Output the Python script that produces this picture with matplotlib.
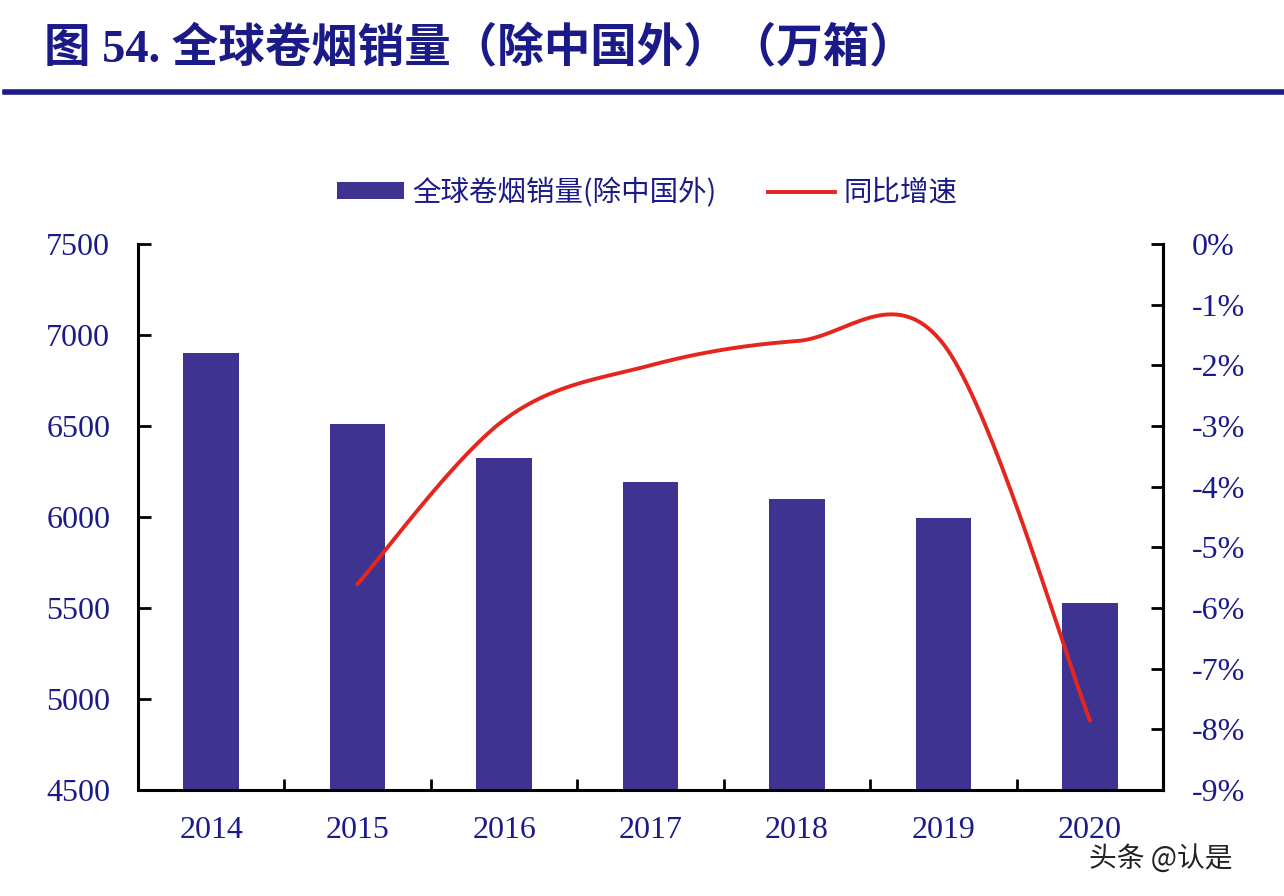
import numpy as np
import matplotlib.pyplot as plt
from matplotlib.patches import Patch
from matplotlib.lines import Line2D

years = ["2014", "2015", "2016", "2017", "2018", "2019", "2020"]
sales = [6900, 6510, 6325, 6195, 6100, 5995, 5525]        # 万箱
yoy = [np.nan, -5.6, -2.9, -2.0, -1.6, -1.65, -7.85]       # %

navy = "#1a1a88"
bar_c = "#3f3391"
red_c = "#e5261f"
serif = ["Liberation Serif", "Noto Sans CJK SC"]
cjk = ["Noto Sans CJK SC", "DejaVu Sans"]


def smooth(xs, ys, n=40):
    # excel-like bezier smoothing through the points
    xs = np.asarray(xs, float)
    ys = np.asarray(ys, float)
    px, py = [], []
    m = len(xs)
    for i in range(m - 1):
        x0, y0 = (xs[i - 1], ys[i - 1]) if i > 0 else (xs[i], ys[i])
        x3, y3 = (xs[i + 2], ys[i + 2]) if i + 2 < m else (xs[i + 1], ys[i + 1])
        c1 = (xs[i] + (xs[i + 1] - x0) / 6, ys[i] + (ys[i + 1] - y0) / 6)
        c2 = (xs[i + 1] - (x3 - xs[i]) / 6, ys[i + 1] - (y3 - ys[i]) / 6)
        t = np.linspace(0, 1, n)
        bx = (1 - t) ** 3 * xs[i] + 3 * (1 - t) ** 2 * t * c1[0] + 3 * (1 - t) * t ** 2 * c2[0] + t ** 3 * xs[i + 1]
        by = (1 - t) ** 3 * ys[i] + 3 * (1 - t) ** 2 * t * c1[1] + 3 * (1 - t) * t ** 2 * c2[1] + t ** 3 * ys[i + 1]
        px.extend(bx)
        py.extend(by)
    return np.array(px), np.array(py)


fig = plt.figure(figsize=(12.84, 8.96), dpi=100)
ax = fig.add_axes([0.1075, 0.1183, 0.7983, 0.6094])
x = np.arange(len(years))
ax.bar(x, sales, width=0.38, color=bar_c, zorder=2)
ax.set_xlim(-0.5, len(years) - 0.5)
ax.set_ylim(4500, 7500)
ax.set_yticks(range(4500, 7501, 500))
ax.set_xticks(x)
ax.set_xticklabels(years)
ax.set_xticks(np.arange(0.5, len(years) - 1, 1), minor=True)
ax.tick_params(axis="x", which="major", length=0, pad=19, labelsize=23, labelcolor=navy)
ax.tick_params(axis="x", which="minor", direction="in", length=8, width=2)
ax.tick_params(axis="y", direction="in", length=9, width=2, pad=20, labelsize=23, labelcolor=navy)
for lab in ax.get_xticklabels() + ax.get_yticklabels():
    lab.set_family(serif)
ax.spines["top"].set_visible(False)
for s in ["left", "bottom", "right"]:
    ax.spines[s].set_linewidth(2.2)

ax2 = ax.twinx()
ax2.set_ylim(-9, 0)
ax2.set_yticks(range(-9, 1))
ax2.set_yticklabels([f"{v}%" for v in range(-9, 1)])
ax2.tick_params(axis="y", direction="in", length=9, width=2, pad=21, labelsize=23, labelcolor=navy)
for lab in ax2.get_yticklabels():
    lab.set_family(serif)
for s in ["top", "left", "bottom"]:
    ax2.spines[s].set_visible(False)
ax2.spines["right"].set_linewidth(2.2)

yv = np.array(yoy)
ok = ~np.isnan(yv)
sx, sy = smooth(x[ok], yv[ok])
ax2.plot(sx, sy, color=red_c, lw=2.8, zorder=3)

handles = [Patch(facecolor=bar_c), Line2D([], [], color=red_c, lw=2.8)]
leg = fig.legend(handles, ["全球卷烟销量(除中国外)", "同比增速"], loc="center",
                 bbox_to_anchor=(0.504, 0.785), ncol=2, frameon=False,
                 prop={"family": cjk, "size": 20.5}, handlelength=2.35,
                 handleheight=0.5, columnspacing=1.8, handletextpad=0.3)
for t in leg.get_texts():
    t.set_color(navy)

fig.text(0.034, 0.944, "图 54. 全球卷烟销量（除中国外）（万箱）", fontsize=33.5,
         fontweight="bold", color=navy, family=serif, va="center")
fig.add_artist(Line2D([0.004, 1.0], [0.897, 0.897], color=navy, lw=4,
                      transform=fig.transFigure))
fig.text(0.848, 0.041, "头条 @认是", fontsize=20, color="#222222",
         family=cjk, va="center")

fig.savefig("out.png", dpi=100)
